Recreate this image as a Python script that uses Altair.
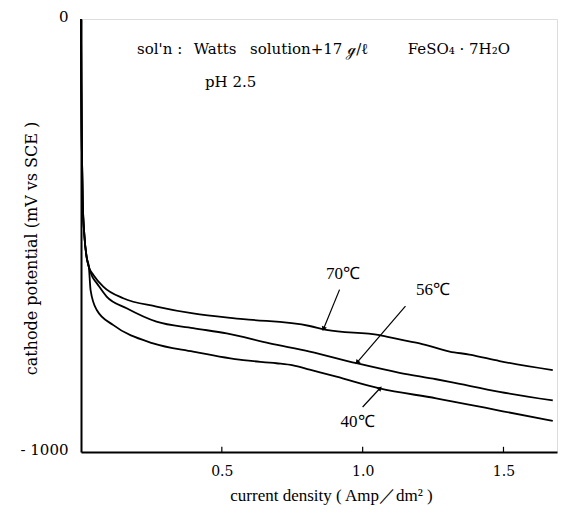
import altair as alt
import pandas as pd
import math

# ---- data ----
shared_i = [0.0, 0.001, 0.003, 0.006, 0.012, 0.02, 0.028]
shared_v = [0, -150, -300, -420, -500, -550, -573]

i70 = [0.044, 0.079, 0.15, 0.268, 0.398, 0.576, 0.812, 0.871, 1.06, 1.131, 1.202, 1.309, 1.379, 1.486, 1.675]
v70 = [-591, -618, -645, -664, -680, -693, -709, -718, -730, -740, -749, -768, -775, -790, -811]

i56 = [0.04, 0.056, 0.091, 0.162, 0.268, 0.398, 0.517, 0.670, 0.812, 0.978, 1.131, 1.261, 1.309, 1.486, 1.675]
v56 = [-595, -610, -641, -668, -699, -714, -726, -749, -768, -795, -817, -832, -838, -861, -881]

i40 = [0.034, 0.056, 0.115, 0.256, 0.398, 0.576, 0.694, 0.753, 0.812, 0.907, 1.06, 1.261, 1.498, 1.675]
v40 = [-626, -672, -707, -749, -768, -788, -795, -800, -810, -826, -853, -876, -906, -928]

x_ticks = [0.5, 1.0, 1.5]
y_ticks = [0, -1000]

label_text = ["70℃", "56℃", "40℃"]
label_x = [0.93, 1.25, 0.982]
label_y = [-590, -625, -930]

arrow_x1 = [0.918, 1.152, 1.0]
arrow_y1 = [-625, -663, -896]
arrow_x2 = [0.862, 0.982, 1.060]
arrow_y2 = [-714, -792, -854]

note_text = ["sol'n :", "Watts", "solution+17", "ℊ/ℓ", "FeSO₄ · 7H₂O", "pH  2.5"]
note_x = [0.199, 0.400, 0.600, 0.945, 1.160, 0.44]
note_y = [-80, -80, -80, -80, -80, -157]

XMAX = 1.69
W, H = 476, 433
FONT = "DejaVu Serif"
FONT2 = "Liberation Serif"

rows = []
for name, xs_, ys_ in [("70℃", i70, v70), ("56℃", i56, v56), ("40℃", i40, v40)]:
    for a, b in zip(shared_i + xs_, shared_v + ys_):
        rows.append({"series": name, "i": a, "v": b})
curves = pd.DataFrame(rows)

xs = alt.Scale(domain=[0, XMAX], nice=False, zero=False)
ys = alt.Scale(domain=[-1000, 0], nice=False)

lines = alt.Chart(curves).mark_line(color="black", strokeWidth=1.8, interpolate="monotone").encode(
    x=alt.X("i:Q", scale=xs, axis=alt.Axis(
        values=x_ticks, format=".1f", tickSize=0, labelPadding=12, grid=False,
        domainColor="black", domainWidth=2, labelFont=FONT, labelFontSize=14,
        labelColor="black", title="current density ( Amp／dm² )", titleFont=FONT2,
        titleFontSize=17, titleFontWeight="normal", titleColor="black",
        titleX=250, titleY=43, titleBaseline="middle", titleAlign="center")),
    y=alt.Y("v:Q", scale=ys, axis=alt.Axis(
        values=y_ticks, labelExpr="datum.value == 0 ? '0' : '- 1000'", tickSize=0,
        labelPadding=13, labelOffset=-3, grid=False, domainColor="black", domainWidth=2,
        labelFont=FONT, labelFontSize=15, labelColor="black",
        title="cathode potential (mV vs SCE )", titleFont=FONT, titleFontSize=16,
        titleFontWeight="normal", titleColor="black", titleX=-50, titleY=229,
        titleBaseline="middle", titleAlign="center", titleAngle=270)),
    detail="series:N",
    order="i:Q",
)

tick_df = pd.DataFrame({"x": x_ticks, "y": [-1000] * 3, "y2": [-988] * 3})
ticks = alt.Chart(tick_df).mark_rule(color="black", strokeWidth=1.2).encode(
    x=alt.X("x:Q", scale=xs), y=alt.Y("y:Q", scale=ys), y2="y2:Q")

lab_df = pd.DataFrame({"t": label_text, "x": label_x, "y": label_y})
labels = alt.Chart(lab_df).mark_text(font=FONT2, fontSize=17, color="black",
                                     align="center", baseline="middle").encode(
    x=alt.X("x:Q", scale=xs), y=alt.Y("y:Q", scale=ys), text="t:N")

arr_df = pd.DataFrame({"x1": arrow_x1, "y1": arrow_y1, "x2": arrow_x2, "y2": arrow_y2})
sx = W / XMAX
sy = H / 1000.0
angles = []
for a, b, c, d in zip(arrow_x1, arrow_y1, arrow_x2, arrow_y2):
    dx = (c - a) * sx
    dy = -(d - b) * sy
    angles.append(math.degrees(math.atan2(dx, -dy)) % 360)
arr_df["ang"] = angles

arrow_lines = alt.Chart(arr_df).mark_rule(color="black", strokeWidth=1.2).encode(
    x=alt.X("x1:Q", scale=xs), y=alt.Y("y1:Q", scale=ys), x2="x2:Q", y2="y2:Q")
arrow_heads = alt.Chart(arr_df).mark_point(shape="triangle", filled=True, color="black",
                                           size=30, opacity=1).encode(
    x=alt.X("x2:Q", scale=xs), y=alt.Y("y2:Q", scale=ys),
    angle=alt.Angle("ang:Q", scale=None))

note_df = pd.DataFrame({"t": note_text, "x": note_x, "y": note_y})
notes = alt.Chart(note_df).mark_text(font=FONT, fontSize=15, color="black",
                                     align="left", baseline="alphabetic").encode(
    x=alt.X("x:Q", scale=xs), y=alt.Y("y:Q", scale=ys), text="t:N")

chart = alt.layer(lines, ticks, arrow_lines, arrow_heads, labels, notes).properties(
    width=W, height=H,
    autosize=alt.AutoSizeParams(type="none"),
    padding={"left": 73, "top": 11, "right": 5, "bottom": 60},
).configure_view(stroke=None).configure(background="white")

chart.save("out.html", embed_options={"renderer": "svg", "actions": False})
